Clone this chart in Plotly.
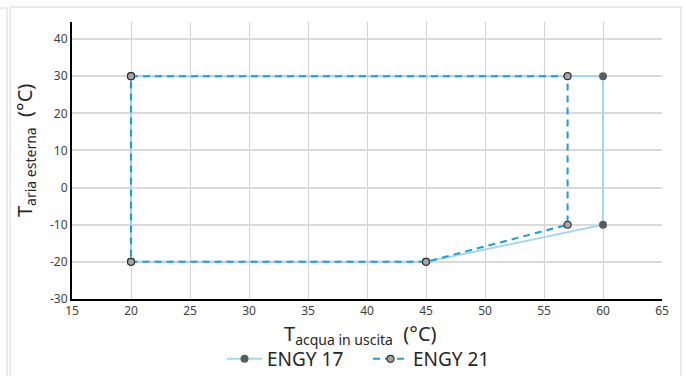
import plotly.graph_objects as go

# Data
engy17_x = [20, 45, 60, 60, 20, 20]
engy17_y = [-20, -20, -10, 30, 30, -20]
engy21_x = [20, 57, 57, 45, 20, 20]
engy21_y = [30, 30, -10, -20, -20, 30]
x_ticks = [15, 20, 25, 30, 35, 40, 45, 50, 55, 60, 65]
y_ticks = [-30, -20, -10, 0, 10, 20, 30, 40]
y_ticktext = ["-30", "-20", "-10", "0", "10", "20", "30", "40"]

FONT = "Noto Sans"
PW, PH = 590, 277  # plot area size in px

fig = go.Figure()
fig.add_trace(go.Scatter(
    x=engy17_x, y=engy17_y, mode="lines+markers", name="ENGY 17",
    line=dict(color="#a5d6f1", width=2),
    marker=dict(color="#5b5b5b", size=8, line=dict(width=0)),
))
fig.add_trace(go.Scatter(
    x=engy21_x, y=engy21_y, mode="lines+markers", name="ENGY 21",
    line=dict(color="#1b9ddd", width=2, dash="7px,5px"),
    marker=dict(color="#a6a6a6", size=7, line=dict(color="#333333", width=1.2)),
))

fig.update_layout(
    width=686, height=376,
    margin=dict(l=72, r=24, t=22, b=77, autoexpand=False),
    paper_bgcolor="white", plot_bgcolor="white",
    font=dict(family=FONT, color="#404040", size=12),
    showlegend=True,
    legend=dict(orientation="h", x=(368 - 72) / PW, xanchor="center",
                yref="container", y=1 - 359 / 376, yanchor="middle",
                font=dict(size=19, color="#262626"), traceorder="normal",
                itemwidth=35, entrywidth=96, entrywidthmode="pixels",
                bgcolor="rgba(0,0,0,0)"),
    xaxis=dict(range=[15, 65], tickvals=x_ticks, showgrid=True, gridcolor="#d4d4d4", gridwidth=1,
               showline=True, linecolor="black", linewidth=1.5, zeroline=False, ticks="",
               tickfont=dict(size=12, color="#404040"), automargin=False),
    yaxis=dict(range=[-30, 44.6], tickvals=y_ticks, ticktext=y_ticktext, showgrid=True,
               gridcolor="#dadada", gridwidth=1.5,
               showline=True, linecolor="black", linewidth=2, zeroline=False, ticks="",
               tickfont=dict(size=12, color="#404040"), automargin=False),
    annotations=[
        dict(text="T<sub>acqua in uscita</sub>  (°C)", xref="paper", yref="paper",
             x=(360 - 72) / PW, y=(299 - 334) / PH, xanchor="center", yanchor="middle",
             showarrow=False, font=dict(size=20, color="#262626")),
        dict(text="T<sub>aria esterna</sub>  (°C)", xref="paper", yref="paper",
             x=(25 - 72) / PW, y=(299 - 151) / PH, xanchor="center", yanchor="middle",
             textangle=-90, showarrow=False, font=dict(size=20, color="#262626")),
    ],
    shapes=[
        dict(type="rect", xref="paper", yref="paper", x0=-62 / PW, x1=609 / PW, y0=-100 / PH, y1=(299 - 7) / PH,
             line=dict(color="#e3e3e3", width=1.5), fillcolor="rgba(0,0,0,0)", layer="below"),
        dict(type="line", xref="paper", yref="paper", x0=-65 / PW, x1=-65 / PW, y0=-100 / PH, y1=(299 - 8) / PH,
             line=dict(color="#e3e3e3", width=1.5)),
        dict(type="line", xref="paper", yref="paper", x0=-80 / PW, x1=-65 / PW, y0=(299 - 8) / PH, y1=(299 - 8) / PH,
             line=dict(color="#e3e3e3", width=1.5)),
    ],
)

fig.write_html("out.html")
